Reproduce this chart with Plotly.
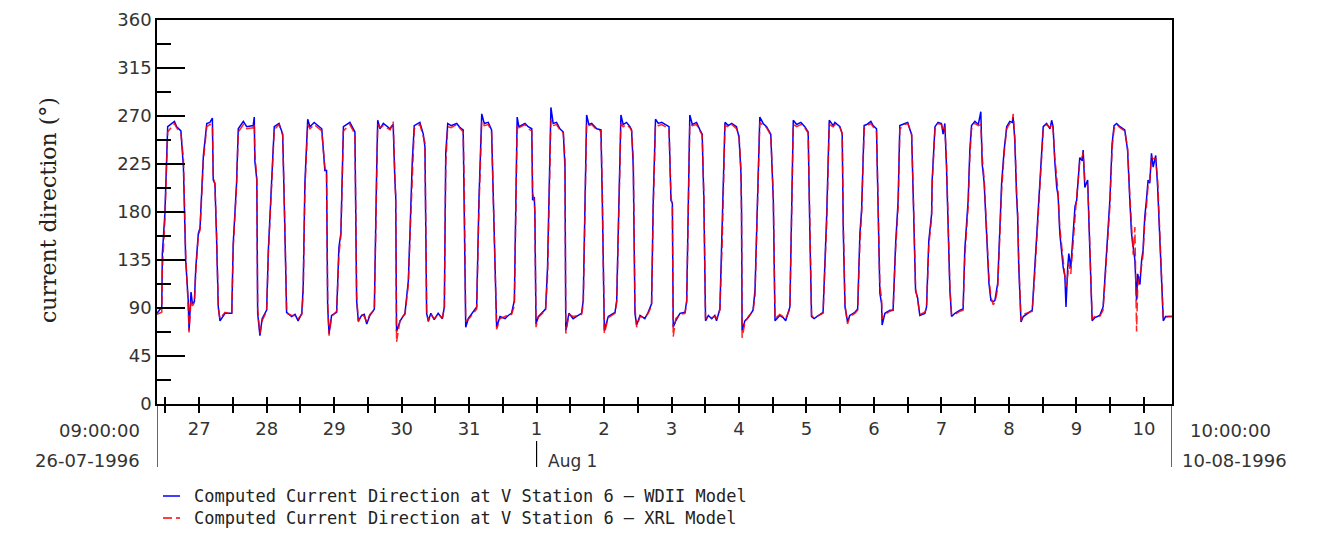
import pandas as pd
import plotly.graph_objects as go

# ---------------- data ----------------
series_start = "1996-07-26 09:00:00"
series_end = "1996-08-10 10:00:00"
start_label = ["09:00:00", "26-07-1996"]
end_label = ["10:00:00", "10-08-1996"]
month_mark = "1996-08-01"
month_label = "Aug 1"
y_title = "current direction (°)"
name_wdii = "Computed Current Direction at V Station 6 – WDII Model"
name_xrl = "Computed Current Direction at V Station 6 – XRL Model"

# hours since 26-07-1996 09:00
hours = [
    0.0, 1.7, 1.9, 2.8, 3.8, 6.2, 7.0, 8.5, 9.4, 10.2, 11.1, 11.4, 12.1, 12.6, 13.3, 13.8, 14.7, 15.3,
    16.5, 17.7, 18.8, 19.7, 20.0, 20.6, 21.2, 21.8, 22.4, 24.2, 26.6, 27.1, 28.3, 28.9, 30.7, 31.9,
    34.2, 34.6, 34.8, 35.5, 35.8, 36.6, 37.4, 39.0, 39.6, 40.5, 40.8, 41.7, 43.4, 44.7, 45.5, 46.1,
    47.9, 49.1, 50.2, 51.5, 52.0, 52.6, 53.6, 54.4, 55.9, 58.6, 59.7, 60.3, 60.7, 61.2, 62.1, 63.9,
    64.7, 65.4, 66.3, 68.6, 70.4, 71.0, 71.6, 72.8, 73.7, 74.6, 75.7, 77.3, 78.1, 78.5, 79.3, 80.5,
    82.9, 84.0, 84.6, 84.9, 85.2, 86.5, 88.2, 89.4, 90.0, 90.8, 91.5, 93.5, 94.7, 95.3, 95.9, 96.5,
    97.4, 98.6, 100.0, 101.5, 102.2, 102.7, 103.4, 104.6, 106.6, 107.8, 108.9, 109.3, 109.8, 110.7,
    112.5, 113.7, 114.5, 115.5, 116.4, 117.8, 119.0, 119.6, 120.4, 120.8, 122.0, 123.8, 124.9, 126.1,
    127.1, 127.6, 128.1, 128.7, 130.9, 132.0, 133.3, 133.6, 134.2, 134.4, 134.8, 135.6, 136.8, 138.2,
    138.9, 139.4, 140.1, 140.9, 142.1, 143.3, 144.5, 145.1, 145.4, 146.5, 148.0, 149.8, 151.0, 151.6,
    152.2, 152.8, 153.6, 154.6, 156.4, 157.9, 158.4, 159.1, 160.5, 162.9, 163.5, 164.0, 165.0, 165.8,
    167.0, 168.2, 168.8, 169.4, 170.0, 170.6, 171.8, 173.5, 174.7, 175.9, 176.5, 177.3, 178.3, 179.5,
    181.3, 182.1, 182.8, 183.3, 183.6, 184.5, 186.0, 187.8, 188.4, 188.9, 189.2, 189.5, 190.4, 191.9,
    193.1, 193.9, 194.5, 195.1, 196.1, 197.3, 198.4, 199.0, 200.2, 201.0, 202.0, 203.2, 204.4, 206.1,
    207.0, 207.7, 207.9, 208.1, 209.1, 210.3, 212.0, 212.7, 213.6, 214.4, 215.6, 216.8, 218.3, 219.2,
    219.8, 221.5, 222.7, 223.6, 225.1, 225.5, 226.3, 227.5, 229.0, 230.4, 231.6, 232.2, 232.8, 233.7,
    235.2, 236.9, 238.2, 238.7, 239.1, 240.5, 241.1, 242.9, 243.7, 244.1, 244.7, 245.6, 246.4, 248.2,
    249.2, 250.0, 250.6, 251.5, 252.4, 253.9, 254.7, 255.9, 256.5, 257.1, 257.7, 257.9, 258.9, 260.7,
    261.8, 262.7, 263.6, 264.2, 266.0, 267.0, 267.8, 268.4, 269.0, 269.6, 269.8, 270.5, 271.3, 273.1,
    273.7, 274.5, 275.5, 275.7, 276.7, 277.8, 279.0, 279.6, 280.2, 280.8, 281.4, 282.0, 282.6, 283.8,
    285.6, 286.7, 287.3, 288.5, 289.1, 289.7, 290.9, 292.1, 293.0, 293.5, 294.2, 295.1, 295.9, 296.6,
    297.4, 298.0, 299.0, 299.8, 300.4, 301.3, 302.2, 303.3, 304.2, 304.5, 305.1, 305.7, 306.1, 306.5,
    307.3, 308.1, 309.8, 311.3, 312.2, 313.4, 314.4, 315.2, 316.4, 317.6, 318.2, 318.7, 319.3, 320.0,
    320.5, 321.1, 321.7, 322.3, 322.9, 323.3, 323.9, 324.3, 325.0, 325.9, 326.5, 327.1, 327.6, 328.2,
    329.1, 329.4, 330.0, 331.0, 331.4, 332.1, 332.6, 333.6, 335.3, 336.5, 337.7, 338.9, 339.7, 340.4,
    341.3, 342.5, 344.2, 345.2, 346.0, 346.6, 347.2, 347.8, 348.4, 348.8, 349.6, 350.2, 350.7, 351.3,
    351.9, 352.5, 353.1, 353.7, 354.3, 355.2, 355.9, 356.3, 357.0, 357.9, 358.7, 359.6, 361.0,
]

wdii_deg = [
    85, 91, 141, 178, 260, 265, 260, 256, 222, 135, 97, 69, 105, 94, 96, 128, 160, 165,
    233, 263, 264, 268, 210, 207, 154, 91, 78, 85, 85, 150, 207, 258, 265, 260,
    261, 269, 228, 210, 85, 64, 80, 88, 144, 191, 210, 260, 263, 253, 160, 86,
    82, 84, 78, 85, 110, 207, 267, 260, 264, 258, 219, 219, 91, 66, 83, 86,
    147, 160, 260, 264, 255, 97, 78, 83, 84, 75, 83, 89, 216, 266, 258, 263,
    258, 262, 210, 196, 68, 78, 85, 116, 163, 228, 261, 264, 253, 241, 85, 78,
    85, 79, 85, 80, 91, 235, 263, 261, 263, 259, 257, 191, 72, 80,
    86, 91, 191, 272, 263, 264, 257, 191, 88, 72, 82, 80, 83, 85,
    97, 191, 269, 260, 263, 260, 258, 191, 194, 178, 75, 82, 85, 89,
    128, 191, 278, 263, 264, 258, 255, 222, 69, 85, 80, 83, 85, 97,
    191, 271, 262, 263, 258, 257, 188, 69, 82, 86, 97, 160, 271, 262,
    264, 260, 257, 222, 85, 74, 83, 80, 86, 94, 191, 267, 263, 264,
    261, 260, 191, 188, 72, 78, 85, 86, 97, 194, 207, 271, 262, 264,
    257, 253, 191, 78, 83, 80, 83, 78, 89, 160, 264, 261, 263, 260,
    250, 216, 182, 69, 78, 81, 88, 107, 197, 269, 263, 260, 253, 191,
    78, 83, 81, 78, 91, 160, 266, 262, 264, 260, 255, 160, 82, 80,
    83, 86, 178, 222, 266, 261, 264, 260, 253, 160, 91, 77, 83, 86,
    89, 160, 182, 261, 262, 265, 261, 258, 191, 104, 94, 74, 85, 88,
    88, 150, 191, 261, 263, 264, 257, 253, 191, 113, 106, 100, 83, 85,
    91, 153, 178, 210, 260, 264, 263, 253, 263, 222, 160, 107, 82, 85,
    88, 89, 144, 191, 238, 261, 265, 262, 274, 225, 207, 160, 113, 97,
    96, 97, 113, 166, 207, 238, 260, 265, 264, 269, 247, 197, 175, 128,
    77, 82, 85, 88, 128, 178, 225, 260, 263, 258, 266, 260, 228, 203,
    195, 160, 144, 128, 120, 91, 128, 141, 128, 160, 185, 191, 213, 231,
    228, 238, 203, 210, 175, 128, 78, 81, 83, 91, 144, 191, 244, 261,
    263, 260, 257, 238, 191, 160, 147, 135, 97, 122, 112, 135, 144, 175,
    191, 210, 207, 235, 222, 233, 203, 175, 128, 78, 82, 82, 82,
]

xrl_deg = [
    84, 86, 125, 172, 255, 263, 259, 254, 230, 140, 92, 67, 98, 92, 95, 124, 158, 163,
    228, 260, 262, 262, 214, 205, 160, 90, 80, 86, 84, 146, 204, 255, 262, 258,
    259, 263, 235, 212, 90, 66, 78, 87, 140, 188, 205, 257, 262, 252, 165, 85,
    83, 83, 80, 84, 104, 200, 262, 258, 262, 256, 222, 215, 95, 64, 82, 87,
    140, 158, 256, 262, 253, 102, 77, 84, 82, 77, 84, 88, 205, 262, 259, 261,
    257, 265, 215, 190, 58, 80, 84, 112, 158, 222, 258, 262, 252, 245, 88, 77,
    84, 80, 84, 81, 90, 225, 260, 259, 262, 258, 255, 200, 78, 79,
    85, 89, 182, 265, 261, 262, 256, 195, 92, 70, 80, 82, 84, 84,
    92, 180, 262, 259, 262, 258, 256, 198, 190, 180, 72, 81, 84, 88,
    120, 185, 266, 261, 262, 257, 254, 230, 66, 84, 82, 83, 84, 93,
    185, 263, 261, 262, 257, 256, 195, 66, 81, 85, 95, 150, 263, 260,
    262, 259, 256, 230, 90, 72, 82, 81, 85, 92, 182, 262, 261, 262,
    259, 258, 195, 185, 63, 80, 84, 85, 95, 185, 200, 263, 261, 262,
    256, 252, 195, 80, 82, 81, 82, 80, 88, 150, 261, 260, 262, 258,
    252, 220, 175, 62, 76, 82, 87, 102, 190, 264, 261, 259, 252, 195,
    80, 84, 82, 80, 89, 150, 262, 260, 262, 259, 254, 170, 83, 81,
    83, 85, 170, 215, 262, 260, 262, 259, 254, 170, 93, 75, 82, 85,
    88, 152, 178, 258, 261, 263, 260, 257, 195, 110, 100, 80, 84, 87,
    88, 145, 185, 258, 262, 263, 258, 252, 195, 120, 108, 98, 84, 86,
    90, 148, 175, 205, 258, 263, 262, 256, 260, 228, 165, 110, 84, 84,
    87, 88, 138, 185, 232, 258, 263, 261, 262, 232, 210, 165, 118, 100,
    93, 95, 108, 160, 200, 235, 258, 263, 265, 272, 250, 200, 180, 135,
    78, 84, 86, 87, 122, 172, 220, 257, 262, 259, 263, 258, 232, 208,
    198, 165, 150, 135, 118, 110, 120, 132, 122, 155, 180, 195, 208, 228,
    232, 236, 210, 205, 180, 132, 80, 82, 82, 88, 140, 185, 240, 258,
    262, 259, 256, 240, 195, 165, 140, 166, 68, 110, 120, 130, 140, 170,
    185, 205, 210, 232, 230, 230, 210, 185, 140, 80, 81, 82, 82,
]

y_range = [0, 360]
y_major = 45
y_minor = 22.5

# ---------------- figure ----------------
t0 = pd.Timestamp(series_start)
t1 = pd.Timestamp(series_end)
times = t0 + pd.to_timedelta(hours, unit="h")

tick_times = pd.date_range(t0.ceil("12h"), t1.floor("D"), freq="12h")
tick_text = [str(t.day) if t.hour == 0 else "" for t in tick_times]

INK = "#000000"
LABEL = "#333333"
FONT = "DejaVu Sans"
BLUE = "#0000ff"
RED = "#ff0000"
RED_DASH = "9px,4px"

# page body keeps an 8px margin, so the figure is 8px smaller than the window
W, H = 1327, 532
ML, MR, MT, MB = 149, 163, 12, 136
PW = W - ML - MR
PH = H - MT - MB

fig = go.Figure()
fig.add_trace(go.Scatter(
    x=times, y=wdii_deg, mode="lines", name=name_wdii, showlegend=False,
    line=dict(color=BLUE, width=1.5),
))
fig.add_trace(go.Scatter(
    x=times, y=xrl_deg, mode="lines", name=name_xrl, xaxis="x2", showlegend=False,
    line=dict(color=RED, width=1.5, dash=RED_DASH), opacity=0.85,
))

common_x = dict(type="date", range=[t0, t1], tickvals=list(tick_times),
                showgrid=False, zeroline=False)

fig.update_layout(
    width=W, height=H,
    margin=dict(l=ML, r=MR, t=MT, b=MB, autoexpand=False),
    paper_bgcolor="white", plot_bgcolor="white",
    font=dict(family=FONT, size=18, color=LABEL),
    showlegend=False,
    xaxis=dict(
        **common_x, ticktext=tick_text,
        ticks="outside", ticklen=7, tickwidth=1.5, tickcolor=INK,
        showline=True, linecolor=INK, linewidth=2, mirror=True,
        tickfont=dict(family=FONT, size=18, color=LABEL),
        ticklabelstandoff=0,
    ),
    xaxis2=dict(
        **common_x, overlaying="x", anchor="y", side="bottom",
        ticks="inside", ticklen=7, tickwidth=1.5, tickcolor=INK,
        showticklabels=False, showline=False,
    ),
    yaxis=dict(
        range=y_range, tick0=0, dtick=y_major,
        ticks="inside", ticklen=28, tickwidth=2, tickcolor=INK,
        minor=dict(ticks="inside", ticklen=14, tickwidth=2, dtick=y_minor,
                   tickcolor=INK, showgrid=False),
        showline=True, linecolor=INK, linewidth=1.5, mirror=True,
        showgrid=False, zeroline=False,
        tickfont=dict(family=FONT, size=18, color=LABEL),
    ),
)

# time-axis end brackets and month marker
row1 = -33 / PH
row2 = -63 / PH
text1 = -26 / PH
text2 = -56 / PH
shapes = []
for t, sign in ((t0, -1), (t1, 1)):
    shapes.append(dict(type="line", xref="x", yref="paper", x0=t, x1=t, y0=0, y1=row2,
                       line=dict(color=INK, width=1.2)))
    for yy in (row1, row2):
        shapes.append(dict(type="line", xref="x", yref="paper", xsizemode="pixel",
                           xanchor=t, x0=0, x1=5 * sign, y0=yy, y1=yy,
                           line=dict(color=INK, width=1.2)))
shapes.append(dict(type="line", xref="x", yref="paper", x0=month_mark, x1=month_mark,
                   y0=-37 / PH, y1=row2, line=dict(color=INK, width=1.2)))

# key below the chart (one text block, two rows)
key_font = 17
key_gap = key_font * 1.3
key_top = 496
key_rows = [(BLUE, "solid", -(key_top - 404) / PH),
            (RED, RED_DASH, -(key_top + key_gap - 404) / PH)]
for color, dash, yy in key_rows:
    shapes.append(dict(type="line", xref="paper", yref="paper", xsizemode="pixel",
                       xanchor=0, x0=6, x1=23, y0=yy, y1=yy,
                       line=dict(color=color, width=1.5, dash=dash)))
fig.update_layout(shapes=shapes)

ann = []
for text, yy in zip(start_label, (text1, text2)):
    ann.append(dict(text=text, xref="paper", yref="paper", x=0, y=yy, xanchor="right",
                    yanchor="middle", xshift=-15, showarrow=False,
                    font=dict(family=FONT, size=18, color=LABEL)))
for text, yy, sh in zip(end_label, (text1, text2), (16, 8)):
    ann.append(dict(text=text, xref="paper", yref="paper", x=1, y=yy, xanchor="left",
                    yanchor="middle", xshift=sh, showarrow=False,
                    font=dict(family=FONT, size=18, color=LABEL)))
ann.append(dict(text=month_label, xref="x", yref="paper", x=month_mark, y=-57 / PH,
                xanchor="left", yanchor="middle", xshift=9, showarrow=False,
                font=dict(family=FONT, size=17, color=LABEL)))
ann.append(dict(text=y_title, xref="paper", yref="paper", x=-109 / PW, y=0.505,
                xanchor="center", yanchor="middle", textangle=-90, showarrow=False,
                font=dict(family="DejaVu Serif", size=22, color="#222222")))
ann.append(dict(text=name_wdii + "<br>" + name_xrl, xref="paper", yref="paper",
                x=35 / PW, y=-(key_top + key_gap / 2 - 404) / PH,
                xanchor="left", yanchor="middle", align="left", showarrow=False,
                font=dict(family="DejaVu Sans Mono", size=key_font, color="#222222")))
fig.update_layout(annotations=ann)

fig.write_html("out.html")
